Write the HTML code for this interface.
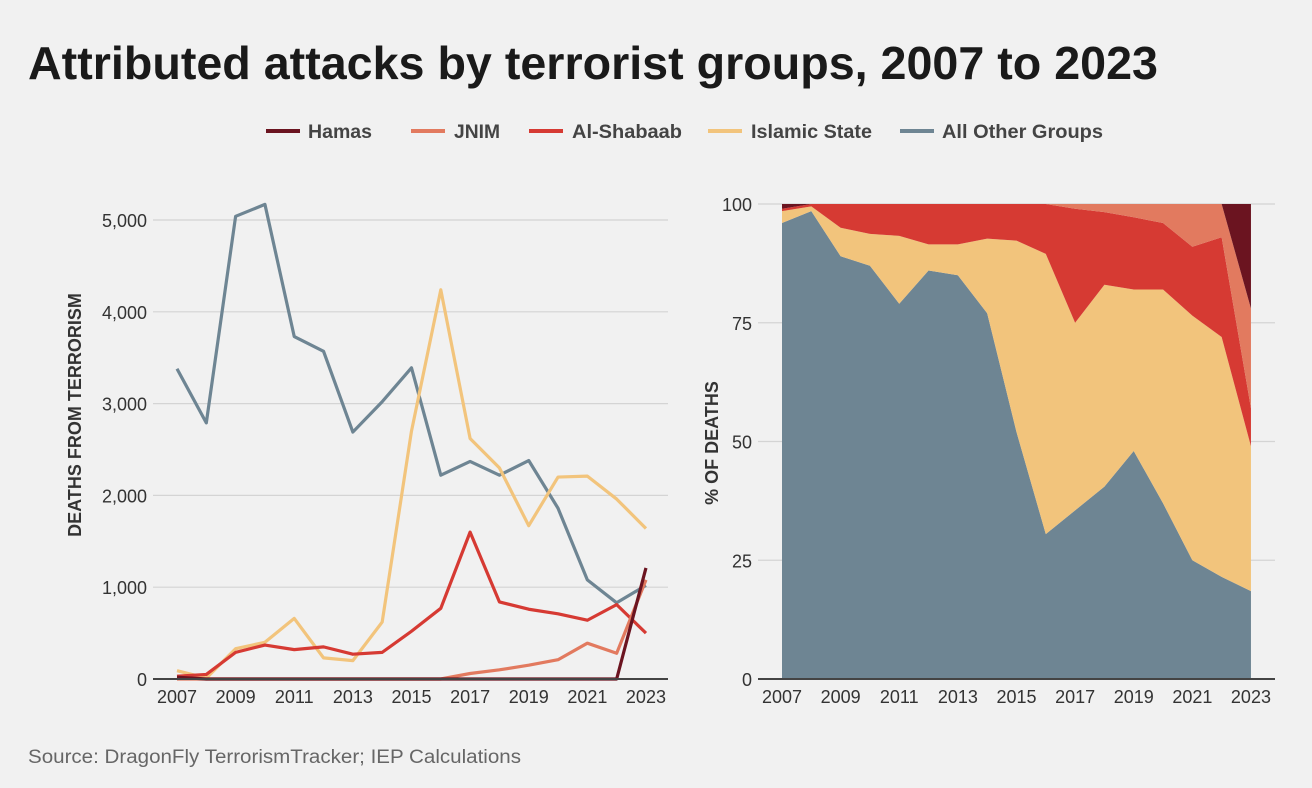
<!DOCTYPE html>
<html><head><meta charset="utf-8"><style>
body{margin:0;background:#f1f1f1;font-family:"Liberation Sans",sans-serif;}
#wrap{position:relative;width:1312px;height:788px;overflow:hidden;background:#f1f1f1;}
svg text{font-family:"Liberation Sans",sans-serif;}
</style></head><body>
<div id="wrap">
<svg id="svg" width="1312" height="788">
<text x="28" y="79" font-size="46" font-weight="bold" fill="#1a1a1a" textLength="1130" lengthAdjust="spacingAndGlyphs">Attributed attacks by terrorist groups, 2007 to 2023</text>
<g id="legend"></g>
<g id="left"></g>
<g id="right"></g>
<text x="28" y="763" font-size="19" fill="#666" textLength="493" lengthAdjust="spacingAndGlyphs">Source: DragonFly TerrorismTracker; IEP Calculations</text>
</svg>
</div>
<script>
const years=[2007,2008,2009,2010,2011,2012,2013,2014,2015,2016,2017,2018,2019,2020,2021,2022,2023];
const seriesNames=["Hamas","JNIM","Al-Shabaab","Islamic State","All Other Groups"];
const hamas=[20,0,0,0,0,0,0,0,0,0,0,0,0,0,0,0,1210];
const jnim=[0,0,0,0,0,0,0,0,0,0,60,100,150,210,390,280,1080];
const shabaab=[30,50,290,370,320,350,270,290,520,770,1600,840,760,710,640,810,500];
const islamicState=[90,10,330,400,660,230,200,620,2700,4240,2620,2300,1670,2200,2210,1960,1640];
const others=[3380,2790,5040,5170,3730,3570,2690,3020,3390,2220,2370,2220,2380,1860,1080,830,1020];
const yTicksLeft=[0,1000,2000,3000,4000,5000];
const yTickLabelsLeft=["0","1,000","2,000","3,000","4,000","5,000"];
const pctOthers=[96,98.5,89,87,79,86,85,77,52,30.5,35.5,40.5,48,37,25,21.5,18.5];
const pctIS=[2.5,1,6,6.7,14.3,5.5,6.5,15.7,40.3,59,39.5,42.5,34,45,51.5,50.5,30.5];
const pctShabaab=[0.5,0.5,5,6.3,6.7,8.5,8.5,7.3,7.7,10.5,24,15.3,15.2,14,14.5,21,8];
const pctJNIM=[0,0,0,0,0,0,0,0,0,0,1,1.7,2.8,4,9,7,21];
const pctHamas=[1,0,0,0,0,0,0,0,0,0,0,0,0,0,0,0,22];
const yTicksRight=[0,25,50,75,100];
const xTickLabels=["2007","2009","2011","2013","2015","2017","2019","2021","2023"];
const colors=["#6b1420","#e27a5f","#d63a33","#f2c47c","#6e8593"];

const NS="http://www.w3.org/2000/svg";
function mk(tag,attrs,parent){const e=document.createElementNS(NS,tag);for(const k in attrs)e.setAttribute(k,attrs[k]);parent.appendChild(e);return e;}

const lg=document.getElementById('legend');
const legX=[266,411,529,708,900];
const legTX=[308,454,572,751,942];
const legTW=[64,46,110,121,161];
seriesNames.forEach((n,i)=>{
  const g=mk('g',{},lg);
  
  
  mk('line',{x1:legX[i],x2:legX[i]+34,y1:131,y2:131,stroke:colors[i],'stroke-width':4},g);
  const t=mk('text',{x:legTX[i],y:138,'font-size':19,'font-weight':'bold',fill:'#444',textLength:legTW[i],lengthAdjust:'spacingAndGlyphs'},g);
  t.textContent=n;
});

const L=document.getElementById('left');
const lx=y=>177+(y-2007)*29.31;
const ly=v=>679-v*(459/5000);
yTicksLeft.forEach((v,i)=>{
  if(v>0){const gl=mk('line',{x1:153,x2:668,y1:ly(v),y2:ly(v),stroke:'#d4d4d4','stroke-width':1.2},L);
  }
  const t=mk('text',{x:147,y:ly(v)+7,'font-size':18,fill:'#333','text-anchor':'end'},L);
  
  t.textContent=yTickLabelsLeft[i];
});
xTickLabels.forEach(s=>{const t=mk('text',{x:lx(+s),y:703,'font-size':18,fill:'#333','text-anchor':'middle'},L);
  t.textContent=s;});
const yt=mk('text',{x:0,y:0,'font-size':18,'font-weight':'bold',fill:'#333','text-anchor':'middle',transform:'translate(81,415) rotate(-90)'},L);
yt.textContent='DEATHS FROM TERRORISM';
const leftSeries=[others,islamicState,shabaab,jnim,hamas];
const leftColors=[colors[4],colors[3],colors[2],colors[1],colors[0]];
const leftNames=['others','islamic-state','al-shabaab','jnim','hamas'];
leftSeries.forEach((s,i)=>{
  const p=mk('polyline',{points:s.map((v,j)=>lx(years[j])+','+ly(v)).join(' '),fill:'none',stroke:leftColors[i],'stroke-width':3.2,'stroke-linejoin':'round'},L);
  
});
const ax=mk('line',{x1:153,x2:668,y1:679,y2:679,stroke:'#444','stroke-width':2},L);


const R=document.getElementById('right');
const rx=y=>782+(y-2007)*29.31;
const ry=v=>679-v*4.75;
yTicksRight.forEach(v=>{
  if(v>0){const gl=mk('line',{x1:758,x2:1275,y1:ry(v),y2:ry(v),stroke:'#d4d4d4','stroke-width':1.2},R);
  }
  const t=mk('text',{x:752,y:ry(v)+7,'font-size':18,fill:'#333','text-anchor':'end'},R);
  t.textContent=String(v);
});
xTickLabels.forEach(s=>{const t=mk('text',{x:rx(+s),y:703,'font-size':18,fill:'#333','text-anchor':'middle'},R);
  t.textContent=s;});
const yt2=mk('text',{x:0,y:0,'font-size':18,'font-weight':'bold',fill:'#333','text-anchor':'middle',transform:'translate(718,443) rotate(-90)'},R);
yt2.textContent='% OF DEATHS';
const stack=[pctOthers,pctIS,pctShabaab,pctJNIM,pctHamas];
const base=years.map(()=>0);
stack.forEach((s,i)=>{
  const top=base.map((b,j)=>b+s[j]);
  const pts=top.map((v,j)=>rx(years[j])+','+ry(v)).concat(base.map((v,j)=>rx(years[j])+','+ry(v)).reverse());
  const p=mk('polygon',{points:pts.join(' '),fill:leftColors[i]},R);
  
  top.forEach((v,j)=>base[j]=v);
});
const ax2=mk('line',{x1:758,x2:1275,y1:679,y2:679,stroke:'#444','stroke-width':2},R);

</script>
</body></html>
